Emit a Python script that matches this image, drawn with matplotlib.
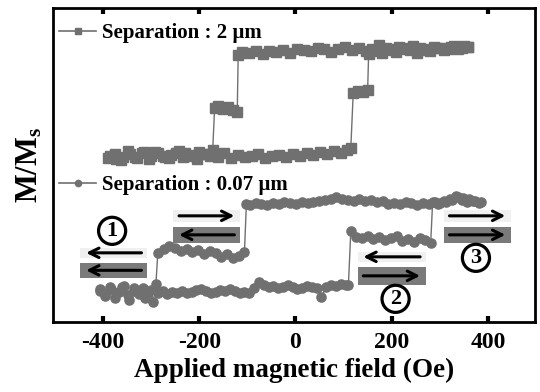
import matplotlib
matplotlib.use("Agg")
import matplotlib.pyplot as plt
from matplotlib.lines import Line2D
from matplotlib.patches import Rectangle

plt.rcParams['font.family'] = ['Liberation Serif', 'DejaVu Serif']
plt.rcParams['font.weight'] = 'bold'
plt.rcParams['mathtext.fontset'] = 'custom'
plt.rcParams['mathtext.rm'] = 'Liberation Serif:bold'
plt.rcParams['mathtext.it'] = 'Liberation Serif:bold'
plt.rcParams['mathtext.bf'] = 'Liberation Serif:bold'

# ---------------- data: separation 2 um (squares) ----------------
h2_down = [358, 345, 330, 316, 302, 288, 273, 259, 245, 231, 216, 202, 188, 174, 160, 146, 131, 117,
           103, 89, 74, 60, 46, 32, 17, 3, -11, -25, -40, -54, -68, -82, -97, -111, -119,
           -121, -130, -140, -150, -160, -168,
           -172, -186, -200, -215, -229, -243, -258, -272, -286, -300, -315, -329, -343, -358, -372, -386]
m2_down = [27.5, 27.4, 27.6, 27.3, 27.4, 27.5, 27.2, 27.4, 27.6, 27.3, 27.5, 27.2, 27.4, 27.7, 27.3, 27.1, 27.4, 27.2,
           27.5, 27.3, 27.0, 27.3, 27.4, 27.1, 27.2, 27.3, 26.9, 27.2, 27.0, 27.1, 26.8, 27.1, 26.9, 27.0, 26.7,
           21.0, 21.2, 21.5, 21.3, 21.6, 21.4,
           17.2, 16.8, 17.0, 16.6, 16.9, 17.1, 16.7, 16.5, 16.9, 16.6, 17.0, 16.4, 16.8, 16.5, 16.3, 16.6]
h2_up = [-390, -376, -362, -348, -333, -319, -305, -291, -276, -262, -248, -234, -219, -205, -191, -177, -162,
         -148, -134, -120, -105, -91, -77, -63, -48, -34, -20, -6, 9, 23, 37, 51, 66, 80, 94, 108, 115,
         120, 130, 140, 150,
         152, 166, 180, 195, 209, 223, 237, 252, 266, 280, 294, 309, 323, 337, 351, 358]
m2_up = [16.4, 16.8, 16.2, 17.1, 16.5, 16.9, 16.3, 17.0, 16.6, 16.4, 16.9, 16.5, 16.7, 16.3, 16.8, 16.6, 16.5,
         16.9, 16.4, 16.7, 16.5, 16.6, 16.8, 16.4, 16.6, 16.7, 16.5, 16.8, 16.6, 16.9, 16.7, 17.0, 16.8, 17.1, 16.9, 17.2, 17.4,
         22.9, 23.1, 23.0, 23.2,
         26.8, 27.1, 26.9, 27.3, 27.0, 27.4, 27.2, 26.9, 27.3, 27.1, 27.4, 27.2, 27.5, 27.3, 27.6, 27.5]

# ---------------- data: separation 0.07 um (circles) ----------------
h007_down = [385, 373, 361, 349, 337, 325, 313, 301, 289, 277, 265, 253, 241, 229, 217, 205, 193, 181, 169, 157,
             145, 133, 121, 109, 97, 85, 73, 61, 49, 37, 25, 13, 1, -11, -23, -35, -47, -59, -71, -83, -95, -102,
             -106, -118, -130, -142, -154, -166, -178, -190, -202, -214, -226, -238, -250, -262, -274, -286,
             -290, -300, -312, -324, -336, -348, -360, -372, -384, -396, -406]
m007_down = [12.0, 12.1, 12.3, 12.4, 12.5, 12.2, 12.0, 11.9, 12.0, 11.8, 11.9, 11.7, 11.9, 12.0, 11.8, 11.9, 11.8, 12.1, 12.0, 12.2,
             12.1, 12.3, 12.1, 12.2, 12.3, 12.5, 12.3, 12.2, 12.1, 12.0, 11.9, 12.0, 11.8, 11.9, 12.0, 11.8, 11.9, 11.7, 11.8, 11.9, 11.7, 11.8,
             7.0, 6.6, 6.4, 6.8, 6.5, 6.9, 7.1, 6.8, 7.2, 7.0, 7.3, 7.1, 7.4, 7.6, 7.3, 6.9,
             3.8, 3.2, 2.4, 2.9, 3.4, 2.7, 3.5, 2.9, 3.3, 2.8, 3.1]
h007_up = [-406, -396, -386, -376, -366, -356, -346, -336, -326, -316, -306, -296, -286, -276, -266, -256, -246,
           -236, -226, -216, -206, -196, -186, -176, -166, -156, -146, -136, -126, -116, -106, -96, -86, -76,
           -66, -56, -46, -36, -26, -16, -6, 4, 14, 24, 34, 44, 54, 64, 74, 84, 94, 104, 110,
           115, 126, 138, 150, 162, 174, 186, 198, 210, 222, 234, 246, 258, 270, 281,
           285, 297, 309, 321, 333, 345, 357, 369, 381]
m007_up = [3.3, 2.6, 3.5, 2.4, 3.0, 3.6, 2.2, 3.1, 2.8, 3.4, 2.5, 2.0, 2.9, 3.1, 2.8, 3.0, 2.9,
           3.1, 2.9, 3.0, 3.2, 3.3, 3.1, 2.9, 3.0, 3.2, 3.1, 3.3, 3.1, 2.9, 3.0, 2.9, 3.4, 4.0,
           3.7, 3.5, 3.6, 3.4, 3.5, 3.7, 3.5, 3.3, 3.4, 3.6, 3.5, 3.4, 2.5, 3.5, 3.7, 3.6, 3.8, 3.7, 3.7,
           9.1, 8.5, 8.4, 8.6, 8.3, 8.5, 8.2, 8.4, 8.6, 8.1, 8.3, 8.0, 8.4, 8.2, 7.9,
           12.0, 11.8, 12.1, 12.3, 12.6, 12.2, 12.0, 12.1, 11.9]

xticks = [-400, -200, 0, 200, 400]
label_2um = 'Separation : 2 µm'
label_007 = 'Separation : 0.07 µm'

gray = '#707070'
fig = plt.figure(figsize=(5.4, 3.92), dpi=100)
ax = fig.add_axes([0.098, 0.179, 0.893, 0.801])

ms = 6.6
for h, m in [(h2_down, m2_down), (h2_up, m2_up)]:
    ax.plot(h, m, '-', color=gray, lw=1.0, marker='s', ms=ms, mec=gray, mfc=gray, zorder=3)
for h, m in [(h007_down, m007_down), (h007_up, m007_up)]:
    ax.plot(h, m, '-', color=gray, lw=1.0, marker='o', ms=ms, mec=gray, mfc=gray, zorder=3)

ax.set_xlim(-504, 498)
ax.set_ylim(0, 31.4)
ax.set_xticks(xticks)
ax.set_xticklabels([str(t) for t in xticks], fontsize=17, fontweight='bold')
ax.set_yticks([])
ax.tick_params(axis='x', direction='in', length=4, width=3, top=True, bottom=True, pad=7)
for s in ax.spines.values():
    s.set_linewidth(2.0)
ax.set_xlabel('Applied magnetic field (Oe)', fontsize=19.5, fontweight='bold', labelpad=4)
ax.set_ylabel(r'$\mathrm{M/M_s}$', fontsize=22, labelpad=6)

# legends
h1 = Line2D([], [], color=gray, lw=1.2, marker='s', ms=4.5, mfc=gray, mec=gray)
h2 = Line2D([], [], color=gray, lw=1.2, marker='o', ms=4.5, mfc=gray, mec=gray)
leg1 = ax.legend([h1], [label_2um], loc='center left', bbox_to_anchor=(-0.005, 0.920), frameon=False,
                 fontsize=15, handlelength=1.8, handletextpad=0.25, borderaxespad=0.2, borderpad=0.2)
ax.add_artist(leg1)
ax.legend([h2], [label_007], loc='center left', bbox_to_anchor=(-0.005, 0.436), frameon=False,
          fontsize=15, handlelength=1.8, handletextpad=0.25, borderaxespad=0.2, borderpad=0.2)

# magnetisation state boxes with arrows
light = '#f0f0f0'
dark = '#7a7a7a'
def box(x0, x1, y0, y1, color):
    ax.add_patch(Rectangle((x0, y0), x1 - x0, y1 - y0, fc=color, ec='none', zorder=2))

def arrow(x0, x1, y):
    ax.annotate('', xy=(x1, y), xytext=(x0, y),
                arrowprops=dict(arrowstyle='->', lw=2.2, color='black', mutation_scale=17,
                                shrinkA=0, shrinkB=0), zorder=4)

# state 1
box(-447, -308, 6.4, 7.4, light); arrow(-320, -435, 6.9)
box(-447, -308, 4.4, 5.9, dark); arrow(-320, -435, 5.15)
# intermediate left
box(-254, -115, 10.0, 11.2, light); arrow(-242, -127, 10.6)
box(-254, -115, 7.9, 9.5, dark); arrow(-127, -242, 8.7)
# state 2
box(129, 271, 6.0, 7.0, light); arrow(259, 141, 6.5)
box(129, 271, 3.7, 5.5, dark); arrow(141, 259, 4.6)
# state 3
box(308, 448, 10.0, 11.2, light); arrow(320, 436, 10.6)
box(308, 448, 7.9, 9.5, dark); arrow(320, 436, 8.7)

circ = dict(boxstyle='circle,pad=0.16', fc='white', ec='black', lw=2.3)
for x, y, t in [(-381, 9.1, '1'), (208, 2.3, '2'), (375, 6.4, '3')]:
    ax.text(x, y, t, fontsize=16, fontweight='bold', ha='center', va='center',
            bbox=circ, zorder=6, clip_on=False)

fig.savefig('out.png', dpi=100)
